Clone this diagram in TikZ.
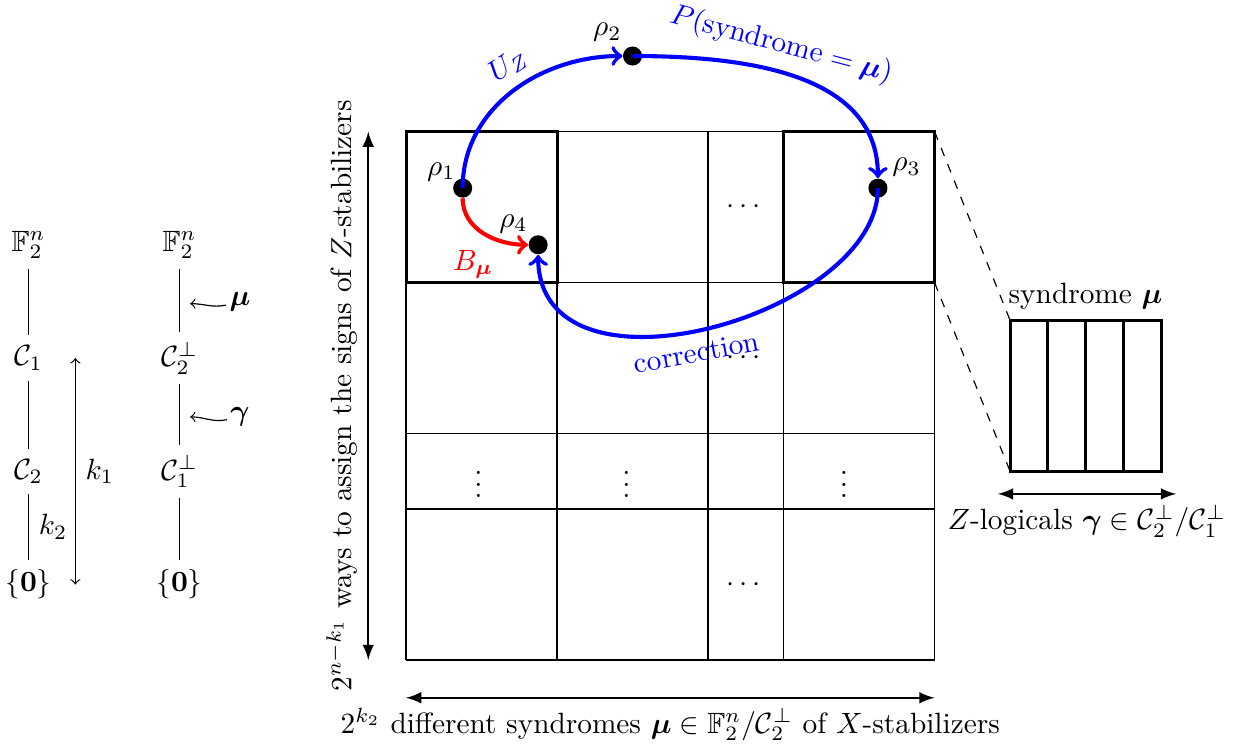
\documentclass[tikz,border=0pt]{standalone}
\usepackage{amsmath, amssymb}
\usepackage{tikz}

\begin{document}
\begin{tikzpicture}[x=1.81cm, y=1.81cm,
  rhodot/.style={circle, fill, inner sep=0pt, minimum size=6.5pt},
  flow/.style={->, line width=1.4pt, blue},
  block/.style={line width=1pt}]

  \useasboundingbox (-2.689,-0.570) rectangle (5.503,4.371);

  % chains of codes
  \foreach \name/\y/\lbl in {f1/2.75/{$\mathbb{F}_2^n$}, c1/2/{$\mathcal{C}_1$},
    c2/1.25/{$\mathcal{C}_2$}, z1/0.5/{$\{\mathbf{0}\}$}}
    \node (\name) at (-2.5,\y) {\lbl};
  \foreach \name/\y/\lbl in {f2/2.75/{$\mathbb{F}_2^n$}, d2/2/{$\mathcal{C}_2^\perp$},
    d1/1.25/{$\mathcal{C}_1^\perp$}, z2/0.5/{$\{\mathbf{0}\}$}}
    \node (\name) at (-1.5,\y) {\lbl};
  \draw (f1) -- (c1) (c1) -- (c2) (c2) -- (z1) node[midway, right] (k2) {$k_2$};
  \draw (f2) -- (d2) (d2) -- (d1) (d1) -- (z2);

  \coordinate (kx) at (-2.19,0);
  \draw[<->] (kx |- c1) -- (kx |- z1) node[midway, right] (k1) {$k_1$};

  % mu and gamma pointers
  \coordinate (mutip) at (-1.43,2.36);
  \coordinate (gatip) at (-1.43,1.61);
  \node[inner sep=1pt] (mu) at (-1.1,2.37) {$\boldsymbol{\mu}$};
  \node[inner sep=1pt] (ga) at (-1.1,1.61) {$\boldsymbol{\gamma}$};
  \draw[<-] (mutip) to[out=0, in=192] (mu);
  \draw[<-] (gatip) to[out=0, in=192] (ga);

  % grid
  \foreach \x in {0,1,2,2.5,3.5} \draw (\x,0) -- (\x,3.5);
  \foreach \y in {0,1,1.5,2.5,3.5} \draw (0,\y) -- (3.5,\y);
  \draw[block] (0,2.5) rectangle (1,3.5) (2.5,2.5) rectangle (3.5,3.5);

  \foreach \y [count=\i] in {3,2,0.5} \node (hd\i) at (2.25,\y) {$\cdots$};
  \foreach \x [count=\i] in {0.48,1.46,2.9} \node (vd\i) at (\x,1.22) {$\vdots$};

  % axes
  \draw[latex-latex, thick] (0,-0.25) -- (3.5,-0.25) node[midway, below] (xlab)
    {$2^{k_2}$ different syndromes $\boldsymbol{\mu} \in \mathbb{F}_2^n/\mathcal{C}_2^\perp$ of $X$-stabilizers};
  \draw[latex-latex, thick] (-0.25,0) -- (-0.25,3.5) node[midway, above, sloped] (ylab)
    {$2^{n-k_1}$ ways to assign the signs of $Z$-stabilizers};

  % states
  \node[rhodot, label={[label distance=-5pt]above left:$\rho_1$}] (r1) at (0.375,3.125) {};
  \node[rhodot, label={[label distance=-2pt]100:$\rho_2$}] (r2) at (1.5,4) {};
  \node[rhodot, label={[label distance=-2pt]15:$\rho_3$}] (r3) at (3.125,3.125) {};
  \node[rhodot, label={[label distance=-3pt]100:$\rho_4$}] (r4) at (0.875,2.75) {};

  \draw[flow] (r1.center) to[out=90, in=180] node[pos=0.55, above, sloped] (uz) {$U_Z$} (r2);
  \draw[flow] (r2.center) to[out=0, in=90] node[pos=0.43, above, sloped] (prob)
    {$P(\text{syndrome} = \boldsymbol{\mu})$} (r3);
  \draw[flow] (r3.center) .. controls +(0,-0.85) and +(0,-1.1) ..
    node[pos=0.53, below, sloped] (corr) {correction} (r4);
  \draw[flow, red] (r1) to[out=-90, in=180]
    node[pos=0.55, below left, xshift=6pt, yshift=-1pt] (bmu) {$B_{\boldsymbol{\mu}}$} (r4);

  % one syndrome block
  \draw[dashed] (3.5,3.5) -- (4,2.25) (3.5,2.5) -- (4,1.25);
  \draw[block] (4,1.25) rectangle (5,2.25);
  \foreach \x in {4.25,4.5,4.75} \draw[block] (\x,1.25) -- (\x,2.25);
  \node[above] (syn) at (4.5,2.25) {syndrome $\boldsymbol{\mu}$};
  \draw[latex-latex, thick] (3.92,1.1) -- (5.1,1.1) node[midway, below] (zlog)
    {$Z$-logicals $\boldsymbol{\gamma} \in \mathcal{C}_2^\perp/\mathcal{C}_1^\perp$};

\end{tikzpicture}
\end{document}
